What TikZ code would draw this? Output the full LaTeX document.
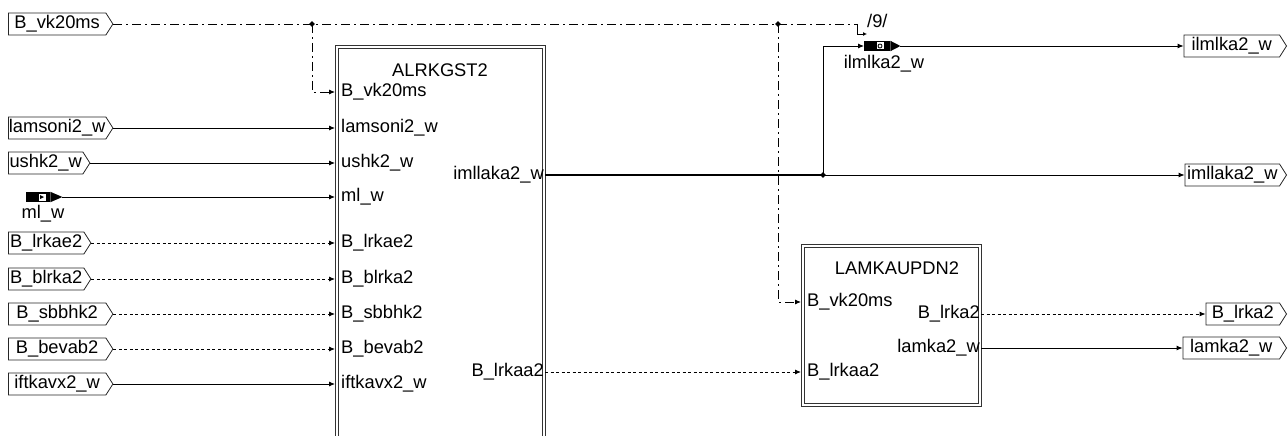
\documentclass[tikz,border=0pt]{standalone}
\usepackage{fontspec}
\setmainfont{Liberation Sans}
\usetikzlibrary{shapes.symbols,shapes.geometric,arrows.meta,calc}
\begin{document}
\begin{tikzpicture}[x=1pt,y=-1pt,
  font=\fontsize{18.3}{20}\selectfont,
  tag/.style={signal, signal to=east, signal pointer angle=115, draw=black!85, line width=0.8pt, minimum height=22pt, inner xsep=0pt, inner ysep=0pt},
  blk/.style={draw=black!80, line width=0.8pt, anchor=north west, inner sep=0pt},
  port/.style={inner sep=1pt, anchor=west},
  oport/.style={inner sep=1pt, anchor=east},
  wire/.style={line width=0.9pt},
  arr/.style={-{Latex[length=6pt,width=5pt]}},
  sarr/.style={-{Latex[length=4pt,width=4pt]}},
  bool/.style={wire, dash pattern=on 3pt off 2.5pt},
  ctrl/.style={wire, dash pattern=on 9pt off 4pt on 2pt off 4pt},
  junc/.style={diamond, fill, inner sep=0pt, minimum size=6pt},
  icon/.style={fill, minimum width=24pt, minimum height=10pt, inner sep=0pt, anchor=west},
]
\useasboundingbox (0,0) rectangle (1288,436);
\clip (0,0) rectangle (1288,436);

% blocks (double border)
\node[blk, minimum width=210pt, minimum height=420pt] (A) at (335,45) {};
\draw[black!80, line width=0.8pt] ([shift={(3,3)}]A.north west) rectangle ([shift={(-3,-3)}]A.south east);
\node (Atitle) at (440,70) {ALRKGST2};
\node[blk, minimum width=180pt, minimum height=162pt] (B) at (801,244) {};
\draw[black!80, line width=0.8pt] ([shift={(3,3)}]B.north west) rectangle ([shift={(-3,-3)}]B.south east);
\node (Btitle) at (897,268) {LAMKAUPDN2};

% input tags
\node[tag, anchor=west] (tvk) at (8,24) {\makebox[97.5pt]{B\_vk20ms}};
\node[tag, anchor=west] (tlam) at (8,128) {\makebox[97.5pt]{lamsoni2\_w}};
\node[tag, anchor=west] (tush) at (8,163) {\makebox[74.5pt]{ushk2\_w}};
\node[tag, anchor=west] (tlrkae) at (8,243) {\makebox[75.5pt]{B\_lrkae2}};
\node[tag, anchor=west] (tblrka) at (8,279) {\makebox[75.5pt]{B\_blrka2}};
\node[tag, anchor=west] (tsbb) at (8,314) {\makebox[97.5pt]{B\_sbbhk2}};
\node[tag, anchor=west] (tbev) at (8,349) {\makebox[97.5pt]{B\_bevab2}};
\node[tag, anchor=west] (tift) at (8,384) {\makebox[97.5pt]{iftkavx2\_w}};

% ml_w icon
\node[icon] (ic1) at (26,197) {};
\coordinate (ic1t) at ($(ic1.east)+(12,0)$);
\fill (ic1.north east) -- (ic1t) -- (ic1.south east) -- cycle;
\node[fill=white, minimum size=7pt, inner sep=0pt] (ic1w) at (42,197) {};
\fill (ic1w.center)+(-2,-2) -- +(2,0) -- +(-2,2) -- cycle;
\node (ic1l) at (43,214) {ml\_w};

% ports of A
\node[port] (aI1) at (340,92) {B\_vk20ms};
\node[port] (aI2) at (340,128) {lamsoni2\_w};
\node[port] (aI3) at (340,163) {ushk2\_w};
\node[port] (aI4) at (340,197) {ml\_w};
\node[port] (aI5) at (340,243) {B\_lrkae2};
\node[port] (aI6) at (340,279) {B\_blrka2};
\node[port] (aI7) at (340,314) {B\_sbbhk2};
\node[port] (aI8) at (340,349) {B\_bevab2};
\node[port] (aI9) at (340,384) {iftkavx2\_w};
\node[oport] (aO1) at (545,175) {imllaka2\_w};
\node[oport] (aO2) at (545,372) {B\_lrkaa2};

% ports of B
\node[port] (bI1) at (806,302) {B\_vk20ms};
\node[port] (bI2) at (806,372) {B\_lrkaa2};
\node[oport] (bO1) at (981,314) {B\_lrka2};
\node[oport] (bO2) at (981,348) {lamka2\_w};

% output tags
\node[tag, anchor=east] (tilm) at (1287,46) {\makebox[95.5pt]{ilmlka2\_w}};
\node[tag, anchor=east] (timl) at (1287,175) {\makebox[94.5pt]{imllaka2\_w}};
\node[tag, anchor=east] (tlrka) at (1287,314) {\makebox[73.5pt]{B\_lrka2}};
\node[tag, anchor=east] (tlamka) at (1287,348) {\makebox[96.5pt]{lamka2\_w}};

% ilmlka2_w icon
\node[icon, minimum width=26pt] (ic2) at (864,46) {};
\coordinate (ic2t) at ($(ic2.east)+(10,0)$);
\fill (ic2.north east) -- (ic2t) -- (ic2.south east) -- cycle;
\node[fill=white, minimum size=7pt, inner sep=0pt] (ic2w) at (880,46) {};
\draw[line width=0.8pt] (ic2w.center) circle (2pt);
\node (ic2l) at (884,64) {ilmlka2\_w};

% control line B_vk20ms
\coordinate (j1) at (312,24);
\coordinate (j2) at (778,24);
\coordinate (c9) at (857,24);
\coordinate (e9) at (867,34);
\draw[ctrl] (tvk.east) -- (c9);
\draw[wire, sarr] (c9) -- (c9 |- e9) -- (e9);
\node[anchor=west, inner sep=0pt] (n9) at (867,21) {/9/};
\draw[ctrl, arr] (j1) -- (j1 |- aI1) -- (aI1 -| A.west);
\draw[ctrl, arr] (j2) -- (j2 |- bI1) -- (bI1 -| B.west);
\node[junc] (dj1) at (j1) {};
\node[junc] (dj2) at (j2) {};

% inputs of A
\draw[wire, arr] (tlam.east) -- (tlam.east -| A.west);
\draw[wire, arr] (tush.east) -- (tush.east -| A.west);
\draw[wire, arr] (ic1t) -- (ic1t -| A.west);
\draw[bool, arr] (tlrkae.east) -- (tlrkae.east -| A.west);
\draw[bool, arr] (tblrka.east) -- (tblrka.east -| A.west);
\draw[bool, arr] (tsbb.east) -- (tsbb.east -| A.west);
\draw[bool, arr] (tbev.east) -- (tbev.east -| A.west);
\draw[wire, arr] (tift.east) -- (tift.east -| A.west);

% outputs of A
\coordinate (j3) at (823,175);
\draw[wire, line width=1.6pt] (aO1.east) -- (j3);
\draw[wire, arr] (j3) -- (timl.west);
\draw[wire, arr] (j3) -- (j3 |- ic2.west) -- (ic2.west);
\draw[wire, arr] (ic2t) -- (tilm.west);
\node[junc] (dj3) at (j3) {};
\draw[bool, arr] (aO2.east) -- (aO2.east -| B.west);

% outputs of B
\draw[bool, arr] (bO1.east) -- (tlrka.west);
\draw[wire, arr] (bO2.east) -- (tlamka.west);
\end{tikzpicture}
\end{document}
